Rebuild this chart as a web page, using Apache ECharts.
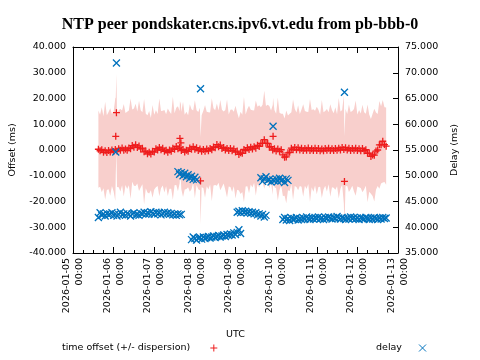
<!DOCTYPE html>
<html><head><meta charset="utf-8">
<script src="https://cdn.jsdelivr.net/npm/echarts@6/dist/echarts.min.js"></script>
<style>html,body{margin:0;padding:0;background:#fff}#c{width:480px;height:360px}</style>
</head><body><div id="c"></div>
<script>
const TITLE = 'NTP peer pondskater.cns.ipv6.vt.edu from pb-bbb-0';
const xStart = '2026-01-05T00:00:00Z';
const xEnd = '2026-01-13T00:00:00Z';
const gridStart = '2026-01-05T15:00:00Z'; // hourly samples from here

// time offset (ms), hourly
const offsetMs = [
 0.3, -0.3, 0.1, -0.9, -0.3, -1.0, -0.2, -0.8, 0.0, -0.6,
 0.2, -0.4, 0.5, -0.1, 0.8, -0.1, 0.4, -0.1, 0.8, 0.5,
 1.7, 1.1, 2.0, 1.0, 1.6, 0.4, 0.7, -0.7, -0.4, -1.5,
 -0.9, -1.6, -0.5, -0.8, 0.5, 0.0, 1.0, 0.1, 0.7, -0.5,
 -0.1, -0.9, 0.0, -0.5, 0.7, 0.3, 1.4, 0.5, 1.1, -0.2,
 0.2, -0.8, -0.1, -0.5, 0.8, 0.3, 1.3, 0.3, 0.9, -0.2,
 0.4, -0.5, 0.2, -0.5, 0.4, -0.3, 0.6, 0.1, 1.2, 0.9,
 2.1, 1.3, 1.9, 0.6, 1.0, 0.0, 0.6, -0.2, 0.6, -0.3,
 0.4, -0.8, -0.4, -1.7, -1.1, -1.3, 0.2, -0.2, 0.9, 0.2,
 1.1, 0.4, 1.3, 0.7, 1.8, 1.4, 2.6, 2.6, 4.0, 2.6,
 2.6, 1.1, 1.3, 0.0, 0.5, -0.4, 0.4, -0.5, 0.1, -1.9,
 -2.8, -2.7, -1.1, -0.9, 0.7, 0.1, 1.0, 0.1, 0.9, 0.0,
 0.7, -0.2, 0.6, -0.1, 0.8, -0.2, 0.5, -0.2, 0.7, -0.2,
 0.6, -0.3, 0.4, -0.3, 0.6, -0.1, 0.7, -0.2, 0.5, -0.2,
 0.6, -0.1, 0.7, 0.0, 1.0, 0.2, 0.9, 0.0, 0.7, -0.2,
 0.6, -0.1, 0.7, -0.2, 0.5, -0.3, 0.6, -0.3, 0.1, -1.3,
 -1.2, -2.5, -1.9, -2.0, -0.4, 0.0, 2.0, 2.0, 3.4, 2.1, 1.5
];
// dispersion (ms), hourly
const dispersionMs = [
 15, 14, 16.5, 14, 19, 14.5, 15, 17, 14, 15.5, 20, 14, 15, 16, 14.5, 18, 14, 15, 14.5, 19.5,
 14, 15, 16, 14, 17.5, 15, 14, 20.5, 14.5, 15, 16, 14, 18, 14.5, 15, 14, 19, 15, 14.5, 16,
 14, 17, 15, 14.5, 20, 14, 15, 16.5, 14, 15, 18.5, 14.5, 15, 14, 17, 15.5, 14, 19, 14.5, 15,
 16, 14, 15, 18, 14.5, 15, 14, 20, 15, 14.5, 16, 14, 17.5, 15, 14, 15.5, 19, 14, 15, 16,
 14.5, 18, 15, 14, 16, 15, 20.5, 14, 15, 17, 14.5, 15, 14, 18.5, 15, 16, 14, 15, 19, 14.5,
 15, 16, 14, 17.5, 15, 14.5, 20, 15, 14, 16, 15, 18, 14.5, 15, 14, 19.5, 15, 14.5, 16.5, 14,
 15, 18, 14.5, 15, 14, 20, 15, 16, 14.5, 17, 15, 14, 19, 15, 14.5, 16, 14, 18, 15, 14.5,
 16, 14, 19.5, 15, 14.5, 21, 15, 14, 17, 15, 14.5, 16, 18.5, 14, 15, 14.5, 17, 15, 14, 19,
 15, 14.5, 16, 18, 15, 14, 17, 15, 16, 14.5, 15
];
// isolated offset samples
const offsetOutlierTimes = ['2026-01-06T01:15:00Z','2026-01-06T01:40:00Z','2026-01-07T15:10:00Z','2026-01-07T15:45:00Z','2026-01-08T03:20:00Z','2026-01-09T22:12:00Z','2026-01-11T16:22:00Z'];
const offsetOutlierMs = [5.3, 14.5, 4.5, 2.8, -12.0, 5.3, -12.2];
const offsetOutlierDisp = [15, 15, 14.5, 15, 17, 15, 17.5];

// delay (ms): hourly segments, each starting at the given hour after gridStart
const delaySegStartHour = [0, 47, 55, 82, 96, 109];
const delaySegMs = [
 [41.9, 42.8, 42.3, 42.6, 42.2, 42.7, 42.4, 42.5, 42.8, 42.3,
  42.6, 42.2, 42.5, 42.9, 42.4, 42.6, 42.3, 42.7, 42.5, 42.2,
  42.6, 42.8, 42.4, 42.5, 42.3, 42.7, 42.6, 42.9, 42.5, 42.8,
  42.6, 43.0, 42.7, 42.5, 42.9, 42.6, 42.8, 42.4, 42.7, 42.9,
  42.6, 42.8, 42.5, 42.7, 42.4, 42.6, 42.3, 42.6, 42.4, 42.5],
 [50.8, 50.3, 50.6, 50.0, 50.5, 49.8, 50.2, 49.5, 49.9, 49.3, 49.7, 49.2],
 [37.6, 38.1, 37.8, 37.5, 37.9, 38.0, 37.7, 38.1, 37.8, 38.0,
  38.2, 37.9, 38.1, 38.3, 38.0, 38.2, 38.4, 38.1, 38.3, 38.5,
  38.2, 38.6, 38.4, 38.7, 38.5, 38.9, 38.6, 39.0, 39.5, 38.8],
 [42.9, 43.1, 42.8, 43.2, 42.9, 43.1, 42.8, 43.0, 42.7, 42.9, 42.6, 42.8, 42.4, 42.6, 42.2, 42.5, 42.0, 42.3],
 [49.6, 48.9, 49.4, 49.8, 49.1, 49.3, 48.8, 49.2, 49.0, 49.4, 48.9, 49.5, 49.0, 49.3, 48.7, 49.4, 49.1],
 [41.5, 41.9, 41.4, 41.7, 41.3, 41.8, 41.5, 41.6, 41.9, 41.4,
  41.7, 41.5, 41.8, 41.6, 42.0, 41.7, 41.5, 41.8, 41.6, 41.9,
  41.7, 42.0, 41.6, 41.8, 41.5, 41.9, 41.7, 42.0, 41.8, 41.6,
  41.9, 41.7, 42.1, 41.8, 41.6, 41.9, 41.7, 41.5, 41.8, 41.6,
  42.0, 41.7, 41.9, 41.6, 41.8, 41.5, 41.9, 41.7, 41.6, 41.9,
  41.7, 41.5, 41.8, 41.6, 41.9, 41.7, 41.5, 41.8, 41.6, 41.9,
  41.7, 41.8]
];
const delayOutlierTimes = ['2026-01-06T01:15:00Z','2026-01-06T01:40:00Z','2026-01-08T03:20:00Z','2026-01-09T22:12:00Z','2026-01-11T16:22:00Z'];
const delayOutlierMs = [54.6, 71.9, 66.9, 59.6, 66.2];

const offsetTicks = {min: -40, max: 40, step: 10};
const delayTicks = {min: 35, max: 75, step: 5};

// ---- build ----
const H = 3600000, DAY = 86400000;
const t0 = Date.parse(gridStart);
const gridT = offsetMs.map((_, i) => t0 + i * H);
const offT = offsetOutlierTimes.map(s => Date.parse(s));
const offsetData = gridT.map((t, i) => [t, offsetMs[i]]).concat(offT.map((t, k) => [t, offsetOutlierMs[k]]));
const bandPts = gridT.map((t, i) => [t, offsetMs[i] - dispersionMs[i], offsetMs[i] + dispersionMs[i]])
  .concat(offT.map((t, k) => [t, offsetOutlierMs[k] - offsetOutlierDisp[k], offsetOutlierMs[k] + offsetOutlierDisp[k]]))
  .sort((a, b) => a[0] - b[0]);
const delayData = [];
delaySegMs.forEach((seg, s) => seg.forEach((v, j) => delayData.push([t0 + (delaySegStartHour[s] + j) * H, v])));
delayOutlierTimes.forEach((s, k) => delayData.push([Date.parse(s), delayOutlierMs[k]]));

const RED = '#ee1c1c', BLUE = '#0072bd', PINK = '#f8cfcc';
const PLUS = 'path://M0,5L10,5M5,0L5,10';
const CROSS = 'path://M0,0L10,10M10,0L0,10';
const FONT = 'DejaVu Sans', FS = 9.5;
const fmtDate = v => { const s = new Date(v).toISOString(); return s.slice(0, 10) + '\n' + s.slice(11, 16); };

const chart = echarts.init(document.getElementById('c'), null, {renderer: 'canvas'});
const xBase = {
  type: 'value', min: Date.parse(xStart), max: Date.parse(xEnd), interval: DAY,
  axisLine: {show: true, onZero: false, lineStyle: {color: '#000', width: 1}},
  axisTick: {show: true, inside: true, length: 6, lineStyle: {color: '#000'}},
  minorTick: {show: true, splitNumber: 4, length: 3, lineStyle: {color: '#000'}},
  splitLine: {show: false}, minorSplitLine: {show: false}
};
chart.setOption({
  animation: false,
  title: {text: TITLE, left: 235, top: 12, textAlign: 'center',
    textStyle: {fontFamily: 'Liberation Serif', fontSize: 16, fontWeight: 'bold', color: '#000'}},
  grid: {left: 72, right: 82, top: 47, bottom: 107},
  legend: [
    {data: [{name: 'time offset (+/- dispersion)', icon: PLUS, itemStyle: {color: 'none', borderColor: RED, borderWidth: 1}}],
     left: 62, top: 342, padding: 0, align: 'right', itemWidth: 7, itemHeight: 7, selectedMode: false,
     formatter: n => n + '     ', textStyle: {fontFamily: FONT, fontSize: FS, color: '#000'}},
    {data: [{name: 'delay', icon: CROSS, itemStyle: {color: 'none', borderColor: BLUE, borderWidth: 1}}],
     left: 376, top: 342, padding: 0, align: 'right', itemWidth: 7, itemHeight: 7, selectedMode: false,
     formatter: n => n + '    ', textStyle: {fontFamily: FONT, fontSize: FS, color: '#000'}}
  ],
  xAxis: [
    Object.assign({}, xBase, {position: 'bottom',
      axisLabel: {rotate: 90, margin: 5, formatter: fmtDate, fontFamily: FONT, fontSize: FS, color: '#000', lineHeight: 13},
      name: 'UTC', nameLocation: 'middle', nameGap: 77, nameTextStyle: {fontFamily: FONT, fontSize: FS, color: '#000'}}),
    Object.assign({}, xBase, {position: 'top', axisLabel: {show: false}})
  ],
  yAxis: [
    {type: 'value', min: offsetTicks.min, max: offsetTicks.max, interval: offsetTicks.step, position: 'left',
     axisLine: {show: true, onZero: false, lineStyle: {color: '#000'}}, axisTick: {show: false}, splitLine: {show: false},
     axisLabel: {formatter: v => v.toFixed(3), margin: 7, fontFamily: FONT, fontSize: FS, color: '#000'},
     name: 'Offset (ms)', nameLocation: 'middle', nameGap: 55, nameRotate: 90,
     nameTextStyle: {fontFamily: FONT, fontSize: FS, color: '#000'}},
    {type: 'value', min: delayTicks.min, max: delayTicks.max, interval: delayTicks.step, position: 'right',
     axisLine: {show: true, onZero: false, lineStyle: {color: '#000'}}, axisTick: {show: true, inside: true, length: 5, lineStyle: {color: '#000'}},
     splitLine: {show: false},
     axisLabel: {formatter: v => v.toFixed(3), margin: 7, fontFamily: FONT, fontSize: FS, color: '#000'},
     name: 'Delay (ms)', nameLocation: 'middle', nameGap: 52, nameRotate: 90,
     nameTextStyle: {fontFamily: FONT, fontSize: FS, color: '#000'}}
  ],
  series: [
    {type: 'custom', name: 'band', xAxisIndex: 0, yAxisIndex: 0, data: bandPts, encode: {x: 0, y: [1, 2]},
     z: 1, silent: true,
     renderItem: (params, api) => {
       if (params.dataIndex !== 0) return null;
       const up = bandPts.map(p => api.coord([p[0], p[2]]));
       const lo = bandPts.map(p => api.coord([p[0], p[1]])).reverse();
       return {type: 'polygon', shape: {points: up.concat(lo)}, style: {fill: PINK}};
     }},
    {type: 'scatter', name: 'time offset (+/- dispersion)', xAxisIndex: 0, yAxisIndex: 0, data: offsetData,
     symbol: PLUS, symbolSize: 7, z: 2, silent: true,
     itemStyle: {color: 'none', borderColor: RED, borderWidth: 1.3, opacity: 1}},
    {type: 'scatter', name: 'delay', xAxisIndex: 0, yAxisIndex: 1, data: delayData,
     symbol: CROSS, symbolSize: 7, z: 3, silent: true,
     itemStyle: {color: 'none', borderColor: BLUE, borderWidth: 1.3, opacity: 1}}
  ]
});
</script></body></html>
